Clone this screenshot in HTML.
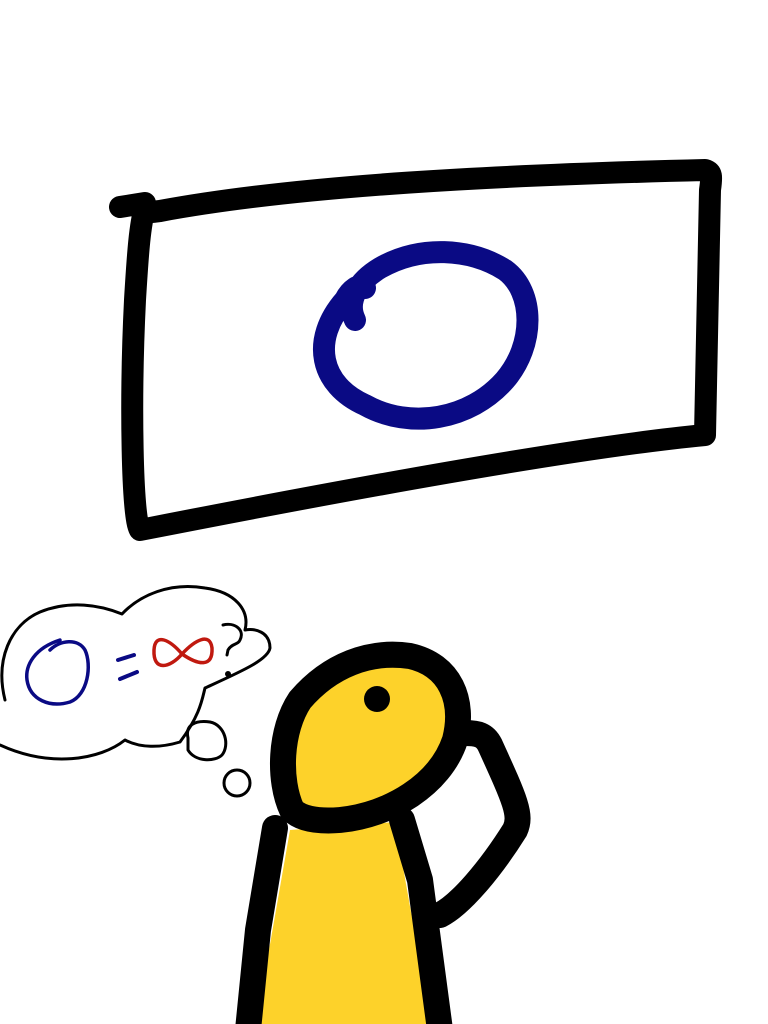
<!DOCTYPE html>
<html><head><meta charset="utf-8"><style>
html,body{margin:0;padding:0;background:#fff;width:768px;height:1024px;overflow:hidden}
svg{display:block}
</style></head><body>
<svg width="768" height="1024" viewBox="0 0 768 1024">
  <g>
    <path d="M120,207 L145,203 C148,215 150,212 160,211 C300,185 500,175 705,170 C712,172 712,176 710,190 L705,435 C600,445 420,475 140,530 C132,520 130,400 135,300 C138,250 140,225 145,207" fill="#fff" stroke="#000" stroke-width="22" stroke-linejoin="round" stroke-linecap="round"/>
  </g>
  <g>
    <path d="M355,320 C345,300 360,280 380,268 C420,245 470,248 505,270 C535,292 535,345 505,380 C470,420 410,430 365,405 C320,385 310,340 345,300 C350,290 360,282 365,288" fill="none" stroke="#0a0a84" stroke-width="22" stroke-linecap="round"/>
  </g>
  <g fill="none" stroke="#000" stroke-width="3" stroke-linecap="round" stroke-linejoin="round">
    <path d="M5,700 C-5,660 10,625 40,612 C70,600 100,605 122,614 C140,595 170,582 205,588 C235,592 250,610 245,630 C255,628 270,632 270,648 C268,660 240,672 205,688 C202,700 200,715 180,742 C160,748 140,748 125,740 C100,760 50,768 0,745"/>
    <path d="M188,738 C185,725 195,720 210,722 C225,725 230,745 222,755 C215,762 195,762 188,750 Z"/>
    <circle cx="237" cy="783" r="13"/>
    <path d="M223,625 C235,622 245,630 240,640 C238,645 232,643 228,650 L227,655" stroke-width="3"/>
    <circle cx="228" cy="674" r="1.5" fill="#000"/>
  </g>
  <g fill="none" stroke-linecap="round" stroke-width="3.5">
    <path d="M50,650 C60,640 78,638 85,650 C92,665 88,695 70,702 C50,708 30,700 27,680 C25,665 35,648 60,640" stroke="#0a0a84"/>
    <path d="M118,660 L134,655 M120,679 L137,672" stroke="#0a0a84" stroke-width="4"/>
    <path d="M182,654 C170,640 155,632 154,650 C153,672 170,668 182,654 C195,640 210,632 212,648 C213,668 198,665 182,654 Z" stroke="#c0190f"/>
  </g>
  <g stroke="#000" stroke-width="26" stroke-linejoin="round" stroke-linecap="round">
    <path d="M290,830 L395,822 L432,1030 L255,1030 Z" fill="#fdd22a" stroke="none"/>
    <path d="M275,828 L258,930 L248,1030" fill="none"/>
    <path d="M402,820 L420,880 L440,1030" fill="none"/>
    <path d="M440,915 C460,905 490,870 515,830 C522,815 515,800 490,745 C485,735 478,733 465,733" fill="none"/>
    <path d="M292,810 C278,780 280,730 300,700 C330,665 370,650 410,656 C450,665 465,700 455,740 C440,785 390,815 340,820 C315,822 300,818 292,810 Z" fill="#fdd22a"/>
    <circle cx="377" cy="699" r="13" fill="#000" stroke="none"/>
  </g>
</svg>
</body></html>
